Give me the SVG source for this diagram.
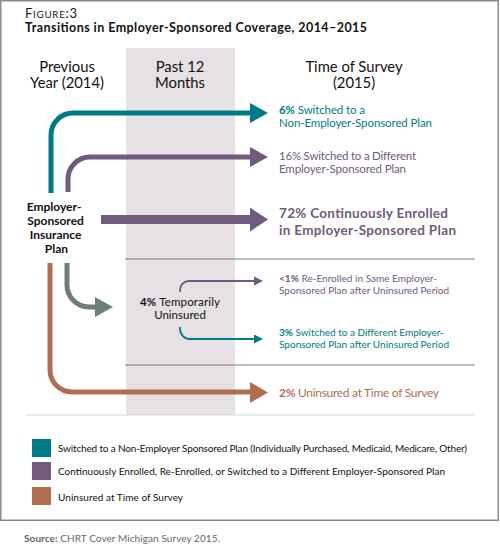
<svg xmlns="http://www.w3.org/2000/svg" width="500" height="560" viewBox="0 0 500 560">
<style>
text{font-family:Lato,"Open Sans","Liberation Sans",sans-serif;}
.hd{font-size:14.8px;fill:#111;text-anchor:middle;}
.b{font-weight:bold;}
.teal{fill:#007a87;}
.pur{fill:#715a7c;}
.brn{fill:#b06d52;}
.lnT{stroke:#007a87;fill:none;}
.lnP{stroke:#715a7c;fill:none;}
.lnB{stroke:#b06d52;fill:none;}
.lnG{stroke:#6c7f75;fill:none;}
.sep{stroke:#7d7d7d;stroke-width:1.2;}
.lg{font-size:10px;fill:#111;}
</style>
<rect x="0.75" y="0.75" width="497.5" height="519.5" fill="#fff" stroke="#8a8a8a" stroke-width="1.5"/>
<rect x="126" y="48" width="109" height="367" fill="#e6e1e4"/>
<line class="sep" x1="125" y1="259" x2="475" y2="259"/>
<line class="sep" x1="125" y1="365" x2="475" y2="365"/>
<line x1="26" y1="415" x2="475" y2="415" stroke="#d8d8d8" stroke-width="1.2"/>

<g id="title">
<text x="25" y="18" fill="#1a1a1a" font-size="13" textLength="52">F<tspan font-size="9.8">IGURE</tspan>:3</text>
<text x="25" y="32" class="b" font-size="12.5" fill="#111" textLength="342">Transitions in Employer-Sponsored Coverage, 2014–2015</text>
</g>
<g id="headers">
<text class="hd" x="67" y="72">Previous</text>
<text class="hd" x="67" y="87.5">Year (2014)</text>
<text class="hd" x="180" y="72">Past 12</text>
<text class="hd" x="180" y="87.5">Months</text>
<text class="hd" x="354" y="72">Time of Survey</text>
<text class="hd" x="354" y="87.5">(2015)</text>
</g>

<g id="connectors" stroke-linecap="butt">
<path class="lnT" stroke-width="5" d="M51,193 V135 A22,22 0 0 1 73,113 H252"/>
<polygon class="teal" points="250,103 268,113 250,123"/>
<path class="lnP" stroke-width="5" d="M68,192 V179 A22,22 0 0 1 90,157 H252"/>
<polygon class="pur" points="250,147 268,157 250,167"/>
<path class="lnP" stroke-width="9" d="M101,219.5 H252"/>
<polygon class="pur" points="250,207.5 268,219.5 250,231.5"/>
<path class="lnG" stroke-width="5" d="M67,263 V285 A22,22 0 0 0 89,307 H97"/>
<polygon fill="#6c7f75" points="95,297 113,307 95,317"/>
<path class="lnB" stroke-width="5" d="M50,263 V370 A22,22 0 0 0 72,392 H252"/>
<polygon class="brn" points="250,382 268,392.5 250,403"/>
<path class="lnP" stroke-width="1.8" d="M180,292 V290 A9,9 0 0 1 189,281 H256"/>
<polygon class="pur" points="254,276.5 263,281 254,285.5"/>
<path class="lnT" stroke-width="1.8" d="M180,327 V329 A10,10 0 0 0 190,339 H256"/>
<polygon class="teal" points="254,334.5 263,339 254,343.5"/>
</g>

<g id="node-employer">
<text class="b" font-size="12" fill="#111" text-anchor="middle">
<tspan x="55.5" y="211">Employer-</tspan>
<tspan x="57" y="225">Sponsored</tspan>
<tspan x="57" y="239">Insurance</tspan>
<tspan x="56.5" y="253">Plan</tspan>
</text>
</g>
<g id="node-temp">
<text x="140" y="306" font-size="11.5" fill="#111" textLength="80"><tspan class="b">4%</tspan> Temporarily</text>
<text x="180" y="319" font-size="11.5" fill="#111" text-anchor="middle">Uninsured</text>
</g>
<g id="node-6">
<text class="teal" x="279" y="114" font-size="11.5" textLength="86"><tspan class="b">6%</tspan> Switched to a</text>
<text class="teal" x="279" y="127" font-size="11.5" textLength="153">Non-Employer-Sponsored Plan</text>
</g>
<g id="node-16">
<text class="pur" x="279" y="160" font-size="11.5" textLength="137">16% Switched to a Different</text>
<text class="pur" x="279" y="173" font-size="11.5" textLength="127">Employer-Sponsored Plan</text>
</g>
<g id="node-72">
<text class="pur b" x="279" y="218" font-size="13.5" textLength="169">72% Continuously Enrolled</text>
<text class="pur b" x="279" y="235" font-size="13.5" textLength="177">in Employer-Sponsored Plan</text>
</g>
<g id="node-1">
<text class="pur" x="279" y="282" font-size="10" textLength="158"><tspan class="b">&lt;1%</tspan> Re-Enrolled in Same Employer-</text>
<text class="pur" x="279" y="293.5" font-size="10" textLength="170">Sponsored Plan after Uninsured Period</text>
</g>
<g id="node-3">
<text class="teal" x="279" y="336" font-size="10" textLength="165"><tspan class="b">3%</tspan> Switched to a Different Employer-</text>
<text class="teal" x="279" y="347.5" font-size="10" textLength="170">Sponsored Plan after Uninsured Period</text>
</g>
<g id="node-2">
<text class="brn" x="279" y="397" font-size="12" textLength="160"><tspan class="b">2%</tspan> Uninsured at Time of Survey</text>
</g>

<g id="legend">
<rect x="32" y="439" width="19" height="18" fill="#007a87"/>
<text class="lg" x="58" y="451.5" textLength="409">Switched to a Non-Employer Sponsored Plan (Individually Purchased, Medicaid, Medicare, Other)</text>
<rect x="32" y="462" width="19" height="18" fill="#715a7c"/>
<text class="lg" x="58" y="475" textLength="387">Continuously Enrolled, Re-Enrolled, or Switched to a Different Employer-Sponsored Plan</text>
<rect x="32" y="487" width="19" height="18" fill="#b06d52"/>
<text class="lg" x="58" y="501" textLength="125">Uninsured at Time of Survey</text>
</g>
<text x="24" y="542" font-size="10" fill="#666" textLength="196"><tspan class="b">Source:</tspan> CHRT Cover Michigan Survey 2015.</text>
</svg>
